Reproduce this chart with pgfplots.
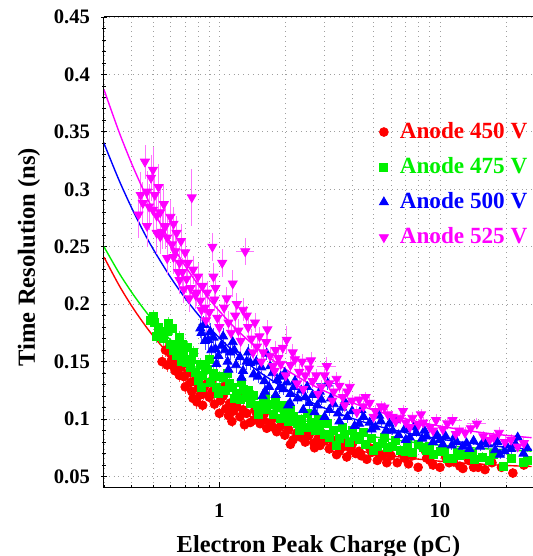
\documentclass[border=0pt]{standalone}
\usepackage{pgfplots}
\usepackage{pgfplotstable}
\pgfplotsset{compat=1.18}
\usepackage{fontspec}
\setmainfont{Liberation Serif}
\definecolor{rootred}{HTML}{FF0000}
\definecolor{rootgreen}{HTML}{00F000}
\definecolor{rootblue}{HTML}{0000FF}
\definecolor{rootmag}{HTML}{FF00FF}

% columns: charge (pC), resolution (ns), y error, x error
\pgfplotstableread{
x y ey ex
0.55 0.150 0.006 0
0.57 0.160 0.006 0
0.58 0.147 0.006 0
0.60 0.157 0.006 0
0.61 0.152 0.006 0
0.62 0.146 0.006 0
0.63 0.142 0.006 0
0.64 0.150 0.006 0
0.65 0.160 0.006 0
0.66 0.138 0.006 0
0.67 0.145 0.006 0
0.69 0.137 0.006 0
0.70 0.128 0.006 0
0.71 0.148 0.006 0
0.72 0.140 0.006 0
0.74 0.132 0.006 0
0.75 0.124 0.006 0
0.76 0.118 0.006 0
0.78 0.134 0.006 0
0.79 0.115 0.006 0
0.80 0.127 0.005 0
0.82 0.121 0.005 0
0.84 0.112 0.005 0
0.85 0.122 0.005 0
0.86 0.129 0.005 0
0.88 0.131 0.005 0
0.90 0.119 0.005 0
0.92 0.133 0.005 0
0.93 0.124 0.005 0
0.95 0.113 0.005 0
0.98 0.125 0.005 0
1.00 0.105 0.005 0
1.01 0.116 0.005 0
1.04 0.120 0.005 0
1.05 0.128 0.005 0
1.07 0.109 0.005 0
1.10 0.103 0.005 0
1.12 0.114 0.005 0
1.14 0.098 0.005 0
1.16 0.107 0.005 0
1.20 0.111 0.005 0
1.22 0.118 0.005 0
1.24 0.102 0.005 0
1.28 0.108 0.005 0
1.30 0.095 0.005 0
1.33 0.105 0.004 0
1.38 0.097 0.004 0
1.43 0.099 0.004 0
1.45 0.108 0.004 0
1.48 0.104 0.004 0
1.53 0.096 0.004 0
1.58 0.100 0.004 0
1.60 0.105 0.004 0
1.64 0.092 0.004 0
1.70 0.097 0.004 0
1.75 0.093 0.004 0
1.78 0.101 0.004 0
1.82 0.089 0.004 0
1.90 0.094 0.004 0
1.95 0.097 0.004 0
1.98 0.086 0.004 0
2.06 0.091 0.004 0
2.10 0.078 0.004 0
2.16 0.082 0.004 0
2.25 0.088 0.004 0
2.30 0.093 0.004 0
2.35 0.084 0.004 0
2.45 0.080 0.004 0
2.50 0.090 0.004 0
2.55 0.086 0.004 0
2.68 0.079 0.004 0
2.70 0.075 0.004 0
2.80 0.083 0.004 0
2.86 0.077 0.004 0
2.95 0.087 0.004 0
3.00 0.081 0.004 0
3.15 0.074 0.004 0
3.20 0.083 0.004 0
3.30 0.079 0.004 0
3.40 0.069 0.004 0
3.50 0.072 0.004 0
3.60 0.081 0.004 0
3.65 0.076 0.004 0
3.78 0.067 0.004 0
3.95 0.073 0.004 0
4.00 0.078 0.004 0
4.15 0.070 0.004 0
4.30 0.072 0.004 0
4.40 0.068 0.004 0
4.66 0.065 0.004 0
4.80 0.075 0.004 0
4.90 0.071 0.004 0
5.20 0.064 0.004 0
5.30 0.070 0.004 0
5.50 0.068 0.004 0
5.74 0.062 0.004 0
5.90 0.070 0.004 0
6.00 0.068 0.004 0
6.40 0.062 0.004 0
6.70 0.071 0.004 0
6.90 0.066 0.004 0
7.20 0.061 0.004 0
7.50 0.068 0.004 0
7.96 0.058 0.004 0
8.60 0.072 0.004 0
8.70 0.066 0.004 0
9.00 0.064 0.004 0
9.30 0.060 0.004 0
10.0 0.058 0.004 0
10.6 0.067 0.004 0
11.0 0.062 0.004 0
11.5 0.063 0.004 0
12.3 0.059 0.004 0.8
12.7 0.057 0.004 0
13.5 0.064 0.004 0
14.2 0.058 0.004 0
14.9 0.058 0.004 0
16.0 0.056 0.004 0
17.2 0.062 0.004 0
19.0 0.058 0.004 0
21.4 0.053 0.004 0
24.0 0.060 0.004 0
}\redtab

\pgfplotstableread{
x y ey ex
0.485 0.186 0.006 0
0.50 0.189 0.006 0
0.51 0.184 0.006 0
0.52 0.172 0.006 0
0.53 0.180 0.006 0
0.55 0.175 0.006 0
0.56 0.170 0.006 0
0.58 0.176 0.006 0
0.586 0.183 0.006 0
0.60 0.165 0.006 0
0.61 0.179 0.006 0
0.62 0.160 0.006 0
0.63 0.163 0.006 0
0.64 0.155 0.006 0
0.66 0.171 0.006 0
0.67 0.150 0.006 0
0.68 0.165 0.006 0
0.69 0.157 0.006 0
0.71 0.149 0.006 0
0.72 0.162 0.006 0
0.74 0.145 0.006 0
0.75 0.152 0.006 0
0.76 0.158 0.006 0
0.78 0.141 0.005 0
0.80 0.134 0.005 0
0.82 0.148 0.005 0
0.83 0.128 0.005 0
0.84 0.138 0.005 0
0.86 0.146 0.005 0
0.88 0.143 0.005 0
0.90 0.152 0.005 0
0.91 0.132 0.005 0
0.94 0.140 0.005 0
0.97 0.128 0.005 0
0.99 0.122 0.005 0
1.00 0.137 0.005 0
1.04 0.136 0.005 0
1.07 0.125 0.005 0
1.09 0.140 0.005 0
1.11 0.131 0.005 0
1.15 0.128 0.005 0
1.17 0.118 0.005 0
1.19 0.122 0.005 0
1.24 0.117 0.005 0
1.26 0.132 0.005 0
1.28 0.126 0.005 0
1.33 0.119 0.004 0
1.36 0.125 0.004 0
1.38 0.114 0.004 0
1.43 0.121 0.004 0
1.48 0.112 0.004 0
1.50 0.104 0.004 0
1.53 0.111 0.004 0
1.58 0.116 0.004 0
1.62 0.120 0.004 0
1.64 0.108 0.004 0
1.70 0.113 0.004 0
1.76 0.104 0.004 0
1.80 0.117 0.004 0
1.83 0.110 0.004 0
1.90 0.101 0.004 0
1.95 0.112 0.004 0
1.98 0.106 0.004 0
2.06 0.098 0.004 0
2.10 0.108 0.004 0
2.16 0.102 0.004 0
2.26 0.096 0.004 0
2.30 0.090 0.004 0
2.36 0.100 0.004 0
2.47 0.093 0.004 0
2.50 0.105 0.004 0
2.60 0.097 0.004 0
2.72 0.090 0.004 0
2.80 0.100 0.004 0
2.85 0.094 0.004 0
3.00 0.087 0.004 0
3.10 0.096 0.004 0
3.15 0.084 0.004 0
3.30 0.090 0.004 0
3.40 0.077 0.004 0
3.50 0.083 0.004 0
3.60 0.093 0.004 0
3.70 0.087 0.004 0
3.90 0.080 0.004 0
4.00 0.090 0.004 0
4.10 0.085 0.004 0
4.30 0.082 0.004 0
4.50 0.088 0.004 0
4.60 0.078 0.004 0
4.90 0.083 0.004 0
5.00 0.073 0.004 0
5.20 0.076 0.004 0
5.50 0.079 0.004 0
5.60 0.084 0.004 0
5.80 0.075 0.004 0
6.10 0.076 0.004 0
6.30 0.081 0.004 0
6.60 0.073 0.004 0
7.00 0.072 0.004 0
7.10 0.079 0.004 0
7.50 0.071 0.004 0
8.00 0.078 0.004 0
8.40 0.075 0.004 0
8.70 0.073 0.004 0
9.00 0.076 0.004 0
9.30 0.069 0.004 0
10.0 0.072 0.004 0
10.5 0.074 0.004 0
10.8 0.066 0.004 0
11.4 0.066 0.004 0
12.0 0.071 0.004 0
12.3 0.068 0.004 0
13.2 0.069 0.004 0
14.0 0.070 0.004 0
14.3 0.065 0.004 0
15.5 0.067 0.004 0
16.8 0.064 0.004 0
17.5 0.069 0.004 0
19.3 0.059 0.004 0
21.0 0.066 0.004 0
23.9 0.062 0.004 0
25.0 0.064 0.004 0
}\greentab

\pgfplotstableread{
x y ey ex
0.82 0.179 0.008 0
0.83 0.175 0.008 0
0.85 0.182 0.008 0
0.86 0.168 0.008 0
0.89 0.169 0.008 0
0.91 0.176 0.008 0
0.92 0.160 0.008 0
0.94 0.171 0.008 0
0.96 0.161 0.008 0
0.97 0.148 0.008 0
0.99 0.155 0.007 0
1.02 0.164 0.007 0
1.04 0.172 0.007 0
1.06 0.160 0.007 0
1.09 0.150 0.007 0
1.10 0.143 0.007 0
1.12 0.158 0.007 0
1.15 0.167 0.007 0
1.17 0.160 0.007 0
1.19 0.147 0.007 0
1.24 0.154 0.007 0
1.26 0.136 0.007 0
1.28 0.142 0.007 0
1.33 0.150 0.007 0
1.35 0.158 0.007 0
1.38 0.149 0.006 0
1.43 0.139 0.006 0
1.47 0.150 0.006 0
1.50 0.137 0.006 0
1.55 0.145 0.006 0
1.57 0.120 0.006 0
1.60 0.133 0.006 0
1.61 0.124 0.006 0
1.64 0.157 0.006 0
1.68 0.128 0.006 0
1.70 0.146 0.006 0
1.74 0.140 0.006 0
1.80 0.121 0.006 0
1.83 0.134 0.006 0
1.88 0.128 0.006 0
1.90 0.137 0.006 0
1.95 0.126 0.005 0
1.98 0.140 0.005 0
2.02 0.132 0.005 0
2.05 0.112 0.005 0
2.09 0.114 0.005 0
2.10 0.122 0.005 0
2.18 0.128 0.005 0
2.20 0.133 0.005 0
2.26 0.118 0.005 0
2.35 0.125 0.005 0
2.40 0.108 0.005 0
2.45 0.119 0.005 0
2.50 0.128 0.005 0
2.55 0.114 0.005 0
2.65 0.121 0.005 0
2.70 0.106 0.005 0
2.78 0.112 0.005 0
2.85 0.124 0.005 0
2.90 0.117 0.005 0
3.00 0.102 0.005 0
3.10 0.131 0.006 0.35
3.15 0.108 0.005 0
3.20 0.118 0.005 0
3.30 0.113 0.005 0
3.45 0.105 0.005 0
3.50 0.098 0.005 0
3.60 0.110 0.005 0
3.70 0.115 0.005 0
3.80 0.102 0.005 0
4.00 0.107 0.005 0
4.10 0.094 0.005 0
4.30 0.096 0.004 0
4.40 0.108 0.004 0
4.50 0.102 0.004 0
4.80 0.097 0.004 0
4.90 0.091 0.004 0
5.10 0.093 0.004 0
5.30 0.103 0.004 0
5.40 0.098 0.004 0
5.70 0.090 0.004 0
5.90 0.096 0.004 0
6.10 0.090 0.004 0
6.30 0.099 0.004 0
6.50 0.086 0.004 0
6.90 0.091 0.004 0
7.00 0.082 0.004 0
7.30 0.084 0.004 0
7.60 0.093 0.004 0
7.80 0.088 0.004 0
8.30 0.083 0.004 0
8.50 0.090 0.004 0
8.70 0.085 0.004 0
9.30 0.080 0.004 0
9.70 0.086 0.004 0
10.0 0.082 0.004 0
10.3 0.078 0.004 0
10.6 0.085 0.004 0
11.3 0.077 0.004 0
11.6 0.084 0.004 0
11.9 0.080 0.004 0
12.7 0.076 0.004 0
13.2 0.079 0.004 0
13.6 0.074 0.004 0
14.2 0.081 0.004 0
15.2 0.076 0.004 0
15.8 0.081 0.004 0
16.5 0.078 0.004 0
17.8 0.073 0.004 0
18.2 0.080 0.004 0
18.7 0.069 0.004 0
19.6 0.072 0.004 0
20.0 0.077 0.004 0
21.0 0.074 0.004 0
22.0 0.078 0.004 0
22.5 0.084 0.004 0
23.9 0.070 0.004 0
24.8 0.075 0.004 0
}\bluetab

\pgfplotstableread{
x y ey ex
0.43 0.278 0.020 0
0.44 0.295 0.020 0
0.45 0.288 0.018 0
0.46 0.324 0.015 0
0.47 0.298 0.018 0
0.47 0.268 0.018 0
0.48 0.285 0.020 0
0.49 0.310 0.020 0
0.50 0.317 0.020 0
0.50 0.282 0.020 0
0.51 0.295 0.015 0
0.52 0.277 0.020 0
0.52 0.262 0.018 0
0.53 0.302 0.020 0
0.54 0.280 0.020 0
0.54 0.259 0.015 0
0.55 0.263 0.015 0
0.56 0.287 0.018 0
0.57 0.268 0.020 0
0.58 0.258 0.020 0
0.58 0.240 0.015 0
0.60 0.276 0.015 0
0.61 0.252 0.015 0
0.62 0.270 0.015 0
0.62 0.241 0.015 0
0.63 0.246 0.015 0
0.64 0.262 0.015 0
0.65 0.228 0.012 0
0.66 0.236 0.015 0
0.66 0.221 0.012 0
0.67 0.255 0.015 0
0.68 0.228 0.012 0
0.69 0.213 0.012 0
0.70 0.245 0.012 0
0.71 0.222 0.012 0
0.72 0.236 0.012 0
0.73 0.205 0.012 0
0.74 0.214 0.012 0
0.75 0.293 0.025 0
0.76 0.230 0.012 0
0.78 0.208 0.012 0
0.79 0.210 0.012 0
0.80 0.224 0.012 0
0.82 0.203 0.010 0
0.83 0.195 0.010 0
0.84 0.216 0.010 0
0.86 0.197 0.010 0
0.87 0.186 0.010 0
0.88 0.210 0.010 0
0.90 0.193 0.010 0
0.93 0.250 0.012 0
0.94 0.224 0.012 0
0.95 0.204 0.010 0
0.96 0.214 0.010 0
0.98 0.188 0.010 0
1.00 0.180 0.010 0
1.03 0.236 0.012 0
1.05 0.197 0.010 0
1.08 0.205 0.010 0
1.10 0.184 0.010 0
1.13 0.175 0.010 0
1.15 0.218 0.012 0
1.18 0.190 0.010 0
1.20 0.200 0.010 0
1.22 0.177 0.010 0
1.25 0.168 0.010 0
1.28 0.195 0.010 0
1.31 0.246 0.012 0.12
1.33 0.190 0.008 0
1.35 0.180 0.008 0
1.40 0.170 0.008 0
1.42 0.158 0.008 0
1.45 0.184 0.008 0
1.48 0.163 0.008 0
1.52 0.172 0.008 0
1.55 0.150 0.008 0
1.58 0.158 0.008 0
1.63 0.167 0.008 0
1.65 0.178 0.008 0
1.70 0.155 0.008 0
1.75 0.146 0.008 0
1.78 0.142 0.008 0
1.80 0.160 0.008 0
1.85 0.153 0.008 0
1.90 0.148 0.008 0
1.94 0.162 0.008 0
2.00 0.138 0.008 0
2.02 0.169 0.012 0
2.10 0.147 0.007 0
2.15 0.158 0.007 0
2.20 0.152 0.007 0
2.25 0.131 0.007 0
2.30 0.141 0.007 0
2.37 0.150 0.007 0.25
2.40 0.126 0.007 0
2.45 0.138 0.007 0
2.55 0.144 0.007 0
2.60 0.151 0.007 0
2.65 0.133 0.006 0
2.75 0.138 0.006 0
2.80 0.122 0.006 0
2.90 0.128 0.006 0
3.00 0.138 0.006 0
3.07 0.146 0.008 0.3
3.15 0.131 0.006 0
3.25 0.116 0.006 0
3.30 0.124 0.006 0
3.40 0.135 0.006 0
3.50 0.129 0.006 0
3.63 0.119 0.006 0
3.70 0.112 0.006 0
3.80 0.124 0.006 0
3.90 0.128 0.006 0
4.00 0.116 0.005 0
4.20 0.106 0.005 0
4.30 0.117 0.005 0
4.50 0.111 0.005 0
4.60 0.119 0.005 0
4.80 0.114 0.005 0
5.00 0.102 0.005 0
5.10 0.107 0.005 0
5.40 0.111 0.005 0
5.60 0.110 0.005 0
5.80 0.104 0.005 0
6.10 0.102 0.005 0
6.30 0.098 0.005 0
6.60 0.101 0.005 0
6.80 0.107 0.005 0
7.00 0.097 0.005 0
7.30 0.093 0.005 0
7.50 0.101 0.005 0
8.00 0.095 0.005 0
8.20 0.104 0.005 0
8.40 0.097 0.005 0
9.00 0.093 0.005 0
9.30 0.090 0.005 0
9.60 0.099 0.005 0
10.3 0.091 0.005 0
10.8 0.096 0.005 0
11.4 0.099 0.005 1.2
11.8 0.087 0.005 0
12.2 0.090 0.005 0
13.0 0.088 0.005 0
13.8 0.092 0.005 0
14.7 0.096 0.005 1.5
15.7 0.085 0.005 0
16.8 0.082 0.005 0
17.5 0.084 0.005 0
18.5 0.088 0.005 0
19.7 0.080 0.005 0
21.0 0.082 0.005 0
22.5 0.076 0.005 0
24.0 0.079 0.005 0
}\magtab

\begin{document}
\begin{tikzpicture}
\begin{axis}[
    name=ax,
    scale only axis,
    width=214.5pt, height=235.5pt,
    xmode=log,
    xmin=0.3, xmax=26.4,
    ymin=0.04, ymax=0.45,
    axis x line=box, axis y line=left,
    axis line style={-, black, line width=0.5pt},
    tick pos=left,
    xtick={1,10}, xticklabels={1,10},
    minor xtick={0.3,0.4,0.5,0.6,0.7,0.8,0.9,2,3,4,5,6,7,8,9,20},
    ytick={0.05,0.1,0.15,0.2,0.25,0.3,0.35,0.4,0.45},
    yticklabels={0.05,0.1,0.15,0.2,0.25,0.3,0.35,0.4,0.45},
    minor y tick num=4,
    major tick length=3pt, minor tick length=1.6pt,
    tick style={black, line width=0.4pt},
    xmajorgrids=true, xminorgrids=true, ymajorgrids=true,
    grid style={dotted, gray!75, line width=0.4pt},
    minor grid style={dotted, gray!75, line width=0.4pt},
    yticklabel style={font=\bfseries\fontsize{10.3}{12}\selectfont, xshift=-2pt},
    xticklabel style={font=\bfseries\fontsize{10.3}{12}\selectfont, yshift=-4.5pt},
    xlabel={Electron Peak Charge (pC)},
    xlabel style={font=\bfseries\fontsize{12.2}{14}\selectfont, at={([yshift=-32pt]rel axis cs:0.5,0)}, anchor=base},
    ylabel={Time Resolution (ns)},
    ylabel style={font=\bfseries\fontsize{12.3}{14}\selectfont, at={([xshift=-34.5pt]rel axis cs:0,0.49)}, anchor=base},
    legend image code/.code={\draw[#1] plot coordinates {(0pt,0pt)};},
    legend style={at={(0.641,0.644)}, anchor=west, draw=none, fill=none, inner sep=0pt,
        font=\bfseries\fontsize{11.6}{13}\selectfont, row sep=4pt, cells={anchor=west},
        /tikz/every odd column/.append style={column sep=3.7pt}},
]
% red, 450 V
\addplot[only marks, mark=*, mark size=2.2pt, color=rootred,
    error bars/.cd, y dir=both, y explicit, x dir=both, x explicit, error mark=none,
    error bar style={line width=0.4pt, rootred!70}]
    table[x=x, y=y, y error=ey, x error=ex]{\redtab};
\addlegendentry{\textcolor{rootred}{Anode 450 V}}
\addplot[rootred, line width=0.7pt, smooth, forget plot] coordinates {
(0.3,0.2410) (0.35,0.2169) (0.4,0.1986) (0.45,0.1843) (0.5,0.1726) (0.6,0.1549)
(0.7,0.1420) (0.8,0.1321) (0.9,0.1244) (1,0.1182) (1.2,0.1087) (1.5,0.0990)
(2,0.0891) (2.5,0.0829) (3,0.0788) (4,0.0734) (5,0.0702) (6,0.0679) (8,0.0651)
(10,0.0633) (13,0.0616) (16,0.0606) (20,0.0596) (26,0.0587)};
% green, 475 V
\addplot[only marks, mark=square*, mark size=2pt, color=rootgreen,
    error bars/.cd, y dir=both, y explicit, x dir=both, x explicit, error mark=none,
    error bar style={line width=0.4pt, rootgreen!70}]
    table[x=x, y=y, y error=ey, x error=ex]{\greentab};
\addlegendentry{\textcolor{rootgreen}{Anode 475 V}}
\addplot[rootgreen, line width=0.7pt, smooth, forget plot] coordinates {
(0.3,0.2500) (0.35,0.2276) (0.4,0.2105) (0.45,0.1969) (0.5,0.1859) (0.6,0.1690)
(0.7,0.1566) (0.8,0.1471) (0.9,0.1395) (1,0.1334) (1.2,0.1240) (1.5,0.1143)
(2,0.1043) (2.5,0.0980) (3,0.0937) (4,0.0881) (5,0.0847) (6,0.0823) (8,0.0792)
(10,0.0772) (13,0.0754) (16,0.0742) (20,0.0731) (26,0.0721)};
% blue, 500 V
\addplot[only marks, mark=triangle*, mark size=2.6pt, color=rootblue,
    error bars/.cd, y dir=both, y explicit, x dir=both, x explicit, error mark=none,
    error bar style={line width=0.4pt, rootblue!70}]
    table[x=x, y=y, y error=ey, x error=ex]{\bluetab};
\addlegendentry{\textcolor{rootblue}{Anode 500 V}}
\addplot[rootblue, line width=0.7pt, smooth, forget plot] coordinates {
(0.3,0.3400) (0.35,0.3085) (0.4,0.2840) (0.45,0.2643) (0.5,0.2483) (0.6,0.2236)
(0.7,0.2053) (0.8,0.1911) (0.9,0.1799) (1,0.1707) (1.2,0.1565) (1.5,0.1417)
(2,0.1261) (2.5,0.1163) (3,0.1095) (4,0.1006) (5,0.0949) (6,0.0910) (8,0.0858)
(10,0.0826) (13,0.0795) (16,0.0774) (20,0.0755) (26,0.0737)};
% magenta, 525 V
\addplot[only marks, mark=triangle*, mark size=2.6pt, mark options={rotate=180}, color=rootmag,
    error bars/.cd, y dir=both, y explicit, x dir=both, x explicit, error mark=none,
    error bar style={line width=0.4pt, rootmag!55}]
    table[x=x, y=y, y error=ey, x error=ex]{\magtab};
\addlegendentry{\textcolor{rootmag}{Anode 525 V}}
\addplot[rootmag, line width=0.7pt, smooth, forget plot] coordinates {
(0.3,0.3868) (0.35,0.3506) (0.4,0.3226) (0.45,0.3004) (0.5,0.2822) (0.6,0.2541)
(0.7,0.2333) (0.8,0.2172) (0.9,0.2045) (1,0.1940) (1.2,0.1778) (1.5,0.1610)
(2,0.1433) (2.5,0.1321) (3,0.1244) (4,0.1143) (5,0.1078) (6,0.1034) (8,0.0976)
(10,0.0939) (13,0.0903) (16,0.0879) (20,0.0858) (26,0.0838)};
\end{axis}
\pgfresetboundingbox
\path ([shift={(-52pt,-34pt)}]ax.south west) rectangle ([shift={(0pt,8.5pt)}]ax.north east);
\end{tikzpicture}
\end{document}
